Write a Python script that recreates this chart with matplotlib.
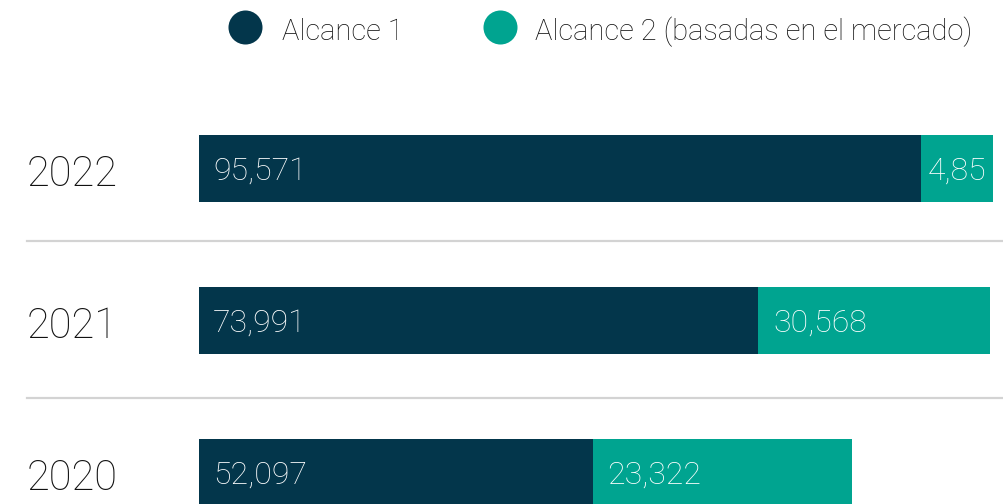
import matplotlib
matplotlib.use("Agg")
import matplotlib.pyplot as plt
from matplotlib.transforms import blended_transform_factory, offset_copy

# data
years = ["2020", "2021", "2022"]
alcance1 = [52.097, 73.991, 95.571]
alcance2 = [23.322, 30.568, 4.85]
# drawn lengths of the Alcance 2 segments as they appear in the picture
alcance2_bar = [34.3, 30.7, 9.5]
series_names = ["Alcance 1", "Alcance 2 (basadas en el mercado)"]

DARK = "#03364B"
TEAL = "#00A490"
FONT = "Roboto"

plt.rcParams["font.family"] = [FONT, "DejaVu Sans"]

fig = plt.figure(figsize=(10.04, 5.04), dpi=100)
PX = 7.555  # pixels per unit
ax = fig.add_axes([199 / 1004, 0, 805 / 1004, 1])
ax.set_xlim(0, 805 / PX)
ax.set_ylim(-0.207, 3.108)
ax.axis("off")

ypos = list(range(len(years)))
h = 0.44
ax.barh(ypos, alcance1, height=h, color=DARK, linewidth=0)
ax.barh(ypos, alcance2_bar, left=alcance1, height=h, color=TEAL, linewidth=0)


def fmt(v):
    return f"{v:g}".replace(".", ",")


# px -> points at 100 dpi
def pt(px):
    return px * 72 / 100


val_tr = offset_copy(ax.transData, fig=fig, x=0, y=-pt(11), units="points")
for y, a, b, bw in zip(ypos, alcance1, alcance2, alcance2_bar):
    ax.text(14 / PX, y, fmt(a), color="white", fontsize=23, fontweight="light",
            va="baseline", ha="left", transform=val_tr)
    if bw * PX < 100:
        ax.text(a + bw / 2, y, fmt(b), color="white", fontsize=23,
                fontweight="light", va="baseline", ha="center", transform=val_tr)
    else:
        ax.text(a + 15 / PX, y, fmt(b), color="white", fontsize=23,
                fontweight="light", va="baseline", ha="left", transform=val_tr)

# year labels and separators
tr = blended_transform_factory(fig.transFigure, ax.transData)
yr_tr = offset_copy(tr, fig=fig, x=0, y=-pt(17.5), units="points")
for y, yr in zip(ypos, years):
    ax.text(27 / 1004, y, yr, transform=yr_tr, fontsize=30, fontweight="light",
            color="#111111", va="baseline", ha="left")
for y in [0.49, 1.52]:
    ax.plot([27 / 1004, 1.0], [y, y], transform=tr, color="#D3D3D3",
            linewidth=1.6, clip_on=False)

# legend
for cx, tx, name, col in [(245, 282, series_names[0], DARK),
                          (500, 535, series_names[1], TEAL)]:
    ax.scatter([cx / 1004], [1 - 27 / 504], s=600, color=col,
               transform=fig.transFigure, clip_on=False, linewidths=0)
    fig.text(tx / 1004, 1 - 40 / 504, name, fontsize=21, fontweight="light",
             color="#111111", va="baseline", ha="left")

fig.savefig("out.png", dpi=100)
